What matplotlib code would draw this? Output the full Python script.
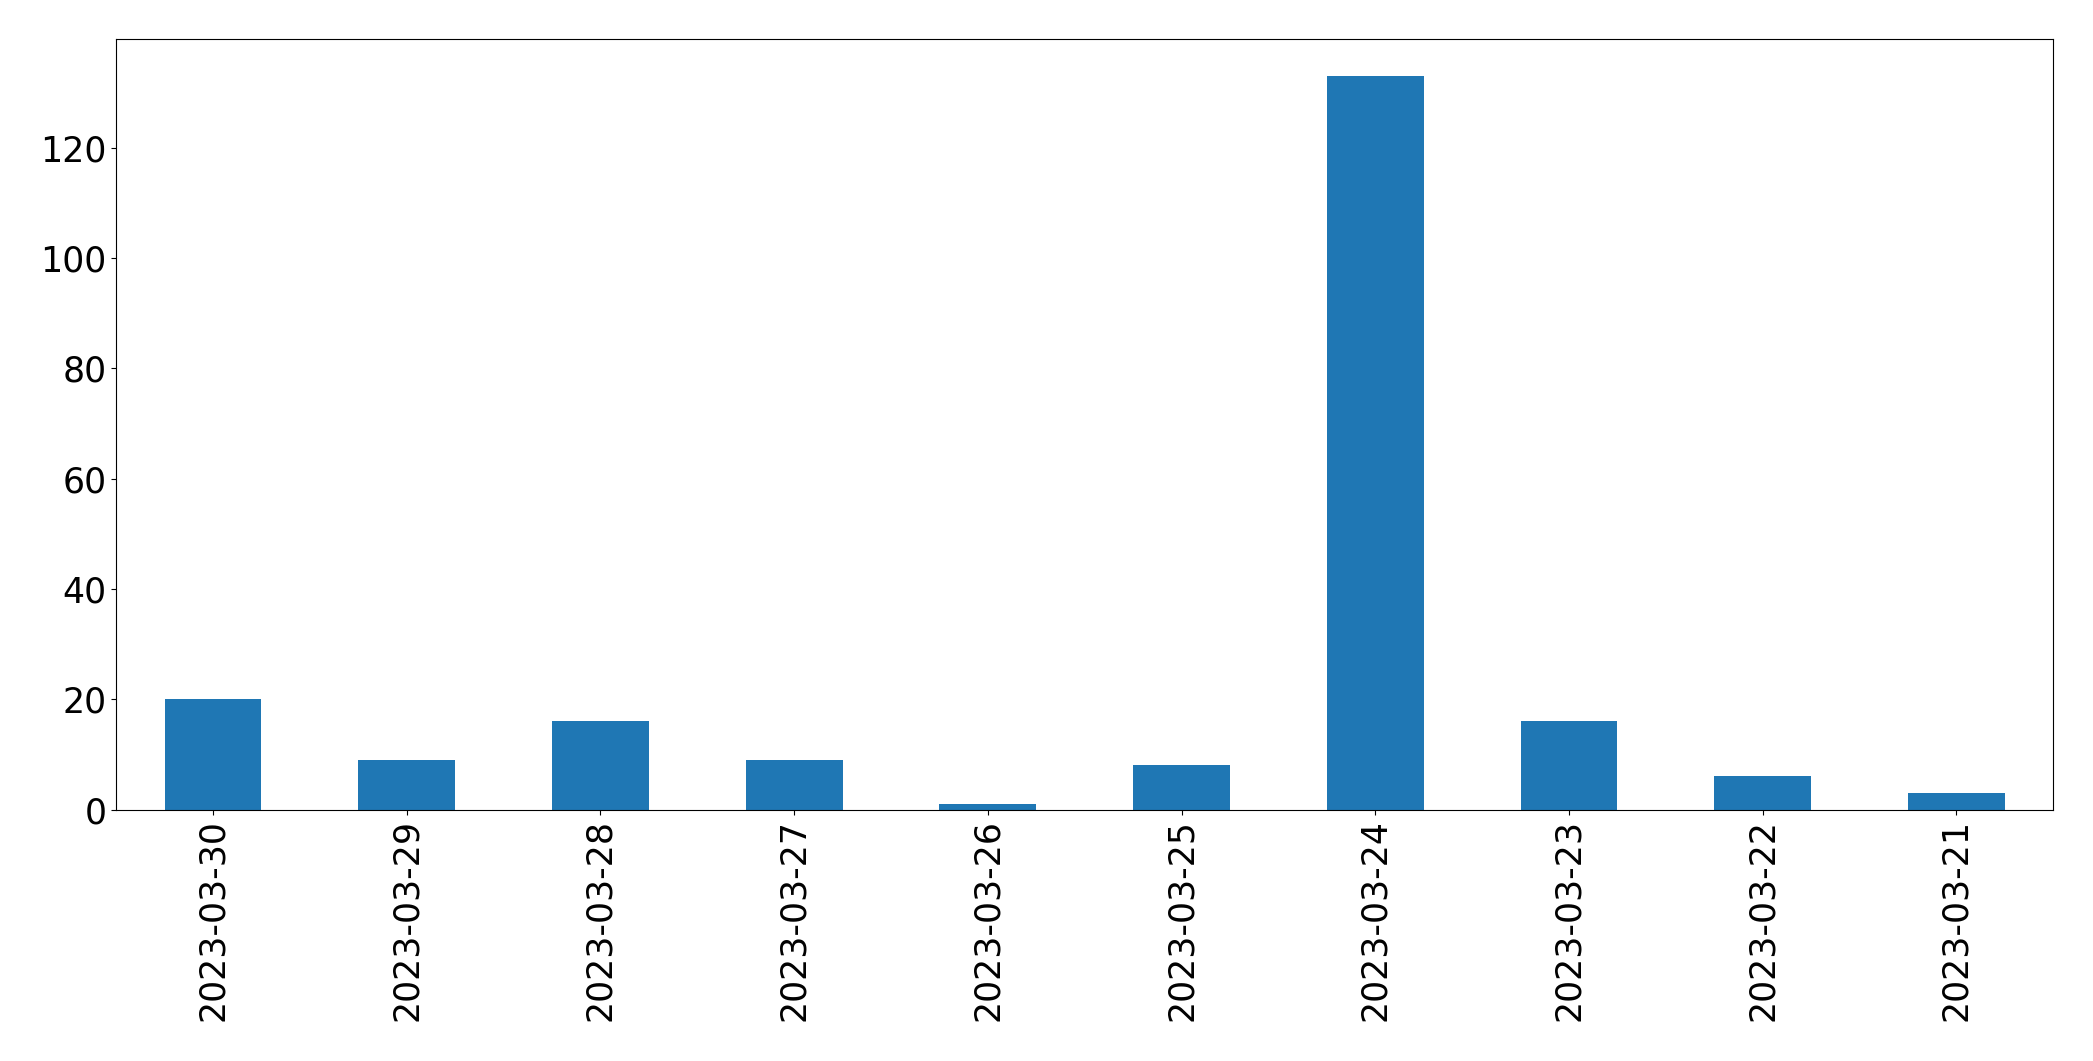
import matplotlib
matplotlib.use("Agg")
import matplotlib.pyplot as plt
import pandas as pd

dates = ["2023-03-30", "2023-03-29", "2023-03-28", "2023-03-27", "2023-03-26",
         "2023-03-25", "2023-03-24", "2023-03-23", "2023-03-22", "2023-03-21"]
counts = [20, 9, 16, 9, 1, 8, 133, 16, 6, 3]

s = pd.Series(counts, index=dates)

fig, ax = plt.subplots(figsize=(20.93, 10.61), dpi=100)
s.plot(kind="bar", ax=ax, color="#1f77b4", width=0.5)
ax.tick_params(axis="both", labelsize=25)
fig.subplots_adjust(left=0.0555, right=0.981, top=0.963, bottom=0.237)
fig.savefig("out.png", dpi=100)
